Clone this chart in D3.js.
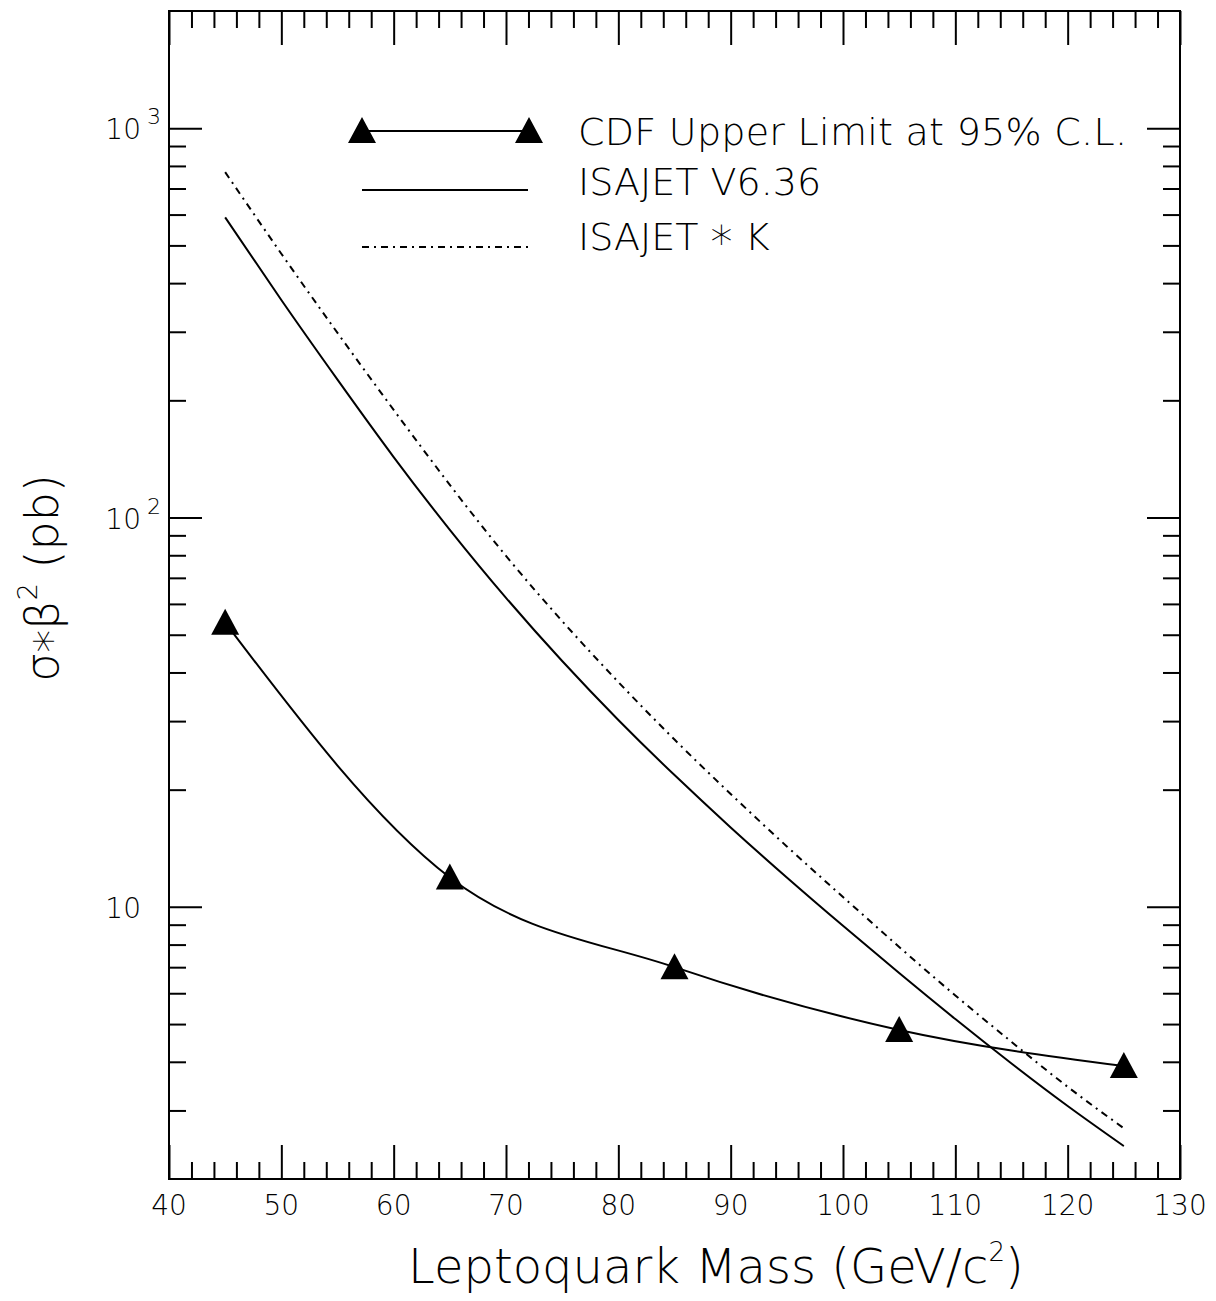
<!DOCTYPE html>
<html><head><meta charset="utf-8">
<script src="https://cdn.jsdelivr.net/npm/d3@7"></script>
<style>
body{margin:0;background:#fff}
text{font-family:"DejaVu Sans",sans-serif;fill:#000;font-weight:200}
</style>
</head><body>
<svg id="c" width="1216" height="1301"></svg>
<script>
// ---- data ----
const massCDF   = [45, 65, 85, 105, 125];
const limitCDF  = [53.7, 11.9, 7.0, 4.83, 3.9];
const massTheory = [45,50,55,60,65,70,75,80,85,90,95,100,105,110,115,120,125];
const isajet    = [590,362,226,143,93,62.2,42.8,30.2,21.8,16.0,11.9,8.94,6.76,5.15,3.96,3.08,2.43];
const isajetK   = [771,476,298,189,121.3,79.7,54.2,37.8,26.9,19.5,14.3,10.6,7.89,5.92,4.50,3.45,2.70];
const xTickLabels = ["40","50","60","70","80","90","100","110","120","130"];
const yTickBase = ["10","10","10"];
const yTickExp  = ["","2","3"];
const yTickVals = [10,100,1000];
const legendLabels = [["CDF Upper Limit at 95% C.L."],["ISAJET V6.36"],["ISAJET ","*"," K"]];

// ---- layout ----
const L=169, R=1180, T=11, B=1179;
const svg=d3.select("#c");
const x=d3.scaleLinear().domain([40,130]).range([L,R]);
const y=d3.scaleLog().domain([2,2000]).range([B,T]);

const majX=d3.range(40,131,10), minX=d3.range(42,130,2).filter(v=>v%10!==0);
const majY=yTickVals;
const minY=[];
[1,10,100,1000].forEach(d=>{for(let k=2;k<=9;k++){const v=k*d; if(v>2&&v<2000) minY.push(v);}});

function tickAxis(gen, vals, size){
  return gen.tickValues(vals).tickSize(size).tickFormat("").tickSizeOuter(0);
}
const axes=svg.append("g");
[[d3.axisBottom(x),B,majX,-34],[d3.axisBottom(x),B,minX,-17],[d3.axisTop(x),T,majX,-34],[d3.axisTop(x),T,minX,-17]]
 .forEach(([g,py,v,s])=>{axes.append("g").attr("transform",`translate(0,${py})`).call(tickAxis(g,v,s)).call(a=>a.select(".domain").remove());});
[[d3.axisLeft(y),L,majY,-33],[d3.axisLeft(y),L,minY,-17],[d3.axisRight(y),R,majY,-33],[d3.axisRight(y),R,minY,-17]]
 .forEach(([g,px,v,s])=>{axes.append("g").attr("transform",`translate(${px},0)`).call(tickAxis(g,v,s)).call(a=>a.select(".domain").remove());});
axes.selectAll("line").attr("stroke","#000").attr("stroke-width",2);

svg.append("rect").attr("x",L).attr("y",T).attr("width",R-L).attr("height",B-T)
  .attr("fill","none").attr("stroke","#000").attr("stroke-width",2);

// x tick labels
svg.append("g").selectAll("text").data(majX).join("text")
  .attr("x",d=>x(d)).attr("y",B+36).attr("text-anchor","middle").attr("font-size",28)
  .text((d,i)=>xTickLabels[i]);

// y tick labels
const yl=svg.append("g");
yTickVals.forEach((v,i)=>{
  yl.append("text").attr("x",141).attr("y",y(v)+11).attr("text-anchor","end").attr("font-size",28).text(yTickBase[i]);
  if(yTickExp[i]) yl.append("text").attr("x",147).attr("y",y(v)-4).attr("font-size",22).text(yTickExp[i]);
});

// axis titles
const xt=svg.append("text").attr("x",408).attr("y",1283).attr("font-size",48);
xt.append("tspan").text("Leptoquark Mass (GeV/c");
xt.append("tspan").attr("font-size",26).attr("dy",-22).text("2");
xt.append("tspan").attr("dy",22).text(")");

const yt=svg.append("text").attr("transform","translate(58,578) rotate(-90)").attr("text-anchor","middle").attr("font-size",46);
yt.append("tspan").text("\u03c3");
yt.append("tspan").attr("dy",9).text("*");
yt.append("tspan").attr("dy",-9).text("\u03b2");
yt.append("tspan").attr("font-size",27).attr("dy",-21).text("2");
yt.append("tspan").attr("dy",21).text(" (pb)");

// curves
const lineS=d3.line().x(d=>x(d[0])).y(d=>y(d[1])).curve(d3.curveNatural);
svg.append("path").datum(massTheory.map((m,i)=>[m,isajet[i]])).attr("d",lineS)
  .attr("fill","none").attr("stroke","#000").attr("stroke-width",2);
svg.append("path").datum(massTheory.map((m,i)=>[m,isajetK[i]])).attr("d",lineS)
  .attr("fill","none").attr("stroke","#000").attr("stroke-width",2).attr("stroke-dasharray","7,5,2,5");
svg.append("path").datum(massCDF.map((m,i)=>[m,limitCDF[i]])).attr("d",d3.line().x(d=>x(d[0])).y(d=>y(d[1])).curve(d3.curveMonotoneX))
  .attr("fill","none").attr("stroke","#000").attr("stroke-width",2);

function tri(cx,cy){return `M${cx},${cy-14}L${cx+14},${cy+12}L${cx-14},${cy+12}Z`;}
svg.append("g").selectAll("path").data(massCDF).join("path")
  .attr("d",(d,i)=>tri(x(d),y(limitCDF[i]))).attr("fill","#000");

// legend
const lg=svg.append("g");
lg.append("line").attr("x1",362).attr("x2",529).attr("y1",131).attr("y2",131).attr("stroke","#000").attr("stroke-width",2);
lg.append("path").attr("d",tri(362,131)+tri(529,131)).attr("fill","#000");
lg.append("line").attr("x1",362).attr("x2",528).attr("y1",190).attr("y2",190).attr("stroke","#000").attr("stroke-width",2);
lg.append("line").attr("x1",362).attr("x2",528).attr("y1",247).attr("y2",247).attr("stroke","#000").attr("stroke-width",2).attr("stroke-dasharray","7,5,2,5");
const lgY=[145,195,250];
legendLabels.forEach((parts,i)=>{
  const t=lg.append("text").attr("x",578).attr("y",lgY[i]).attr("font-size",38);
  let shifted=false;
  parts.forEach(p=>{
    const ts=t.append("tspan").text(p);
    if(p==="*"){ ts.attr("dy",8).attr("font-size",44); shifted=true; }
    else if(shifted){ ts.attr("dy",-8); shifted=false; }
  });
  if(i===0) t.attr("textLength",549).attr("lengthAdjust","spacing");
});
</script>
</body></html>
